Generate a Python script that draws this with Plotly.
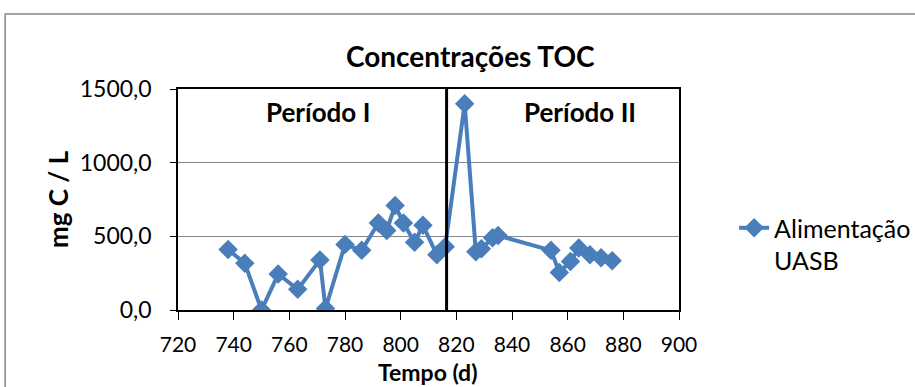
import plotly.graph_objects as go

# Data
tempo = [738, 744, 750, 756, 763, 771, 773, 780, 786, 792, 795, 798, 801, 805, 808,
         813, 816, 823, 827, 829, 833, 835, 854, 857, 861, 864, 868, 872, 876]
toc = [410, 317, 0, 244, 140, 340, 10, 445, 405, 590, 540, 710, 590, 460, 575,
       375, 430, 1400, 395, 415, 490, 505, 405, 255, 330, 420, 375, 355, 335]
series_name = "Alimentação<br>UASB"
period_boundary = 816.5
period_labels = ["Período I", "Período II"]
period_label_x = [0.279, 0.802]

font_family = "Lato, 'Open Sans', sans-serif"
blue = "#4a7ebb"

fig = go.Figure()
fig.add_trace(go.Scatter(
    x=tempo, y=toc, mode="lines+markers", name=series_name,
    line=dict(color=blue, width=4),
    marker=dict(symbol="diamond", size=15, color=blue),
))

fig.add_shape(type="line", xref="x", yref="y", x0=period_boundary, x1=period_boundary,
              y0=0, y1=1500, line=dict(color="black", width=3))

# outer chart border
fig.add_shape(type="rect", xref="paper", yref="paper", x0=-0.345, x1=2.0, y0=-1.0, y1=1.339,
              line=dict(color="#868686", width=1.5), layer="below")

for lbl, px in zip(period_labels, period_label_x):
    fig.add_annotation(text="<b>%s</b>" % lbl, xref="paper", yref="paper", x=px, y=0.896,
                       xanchor="center", yanchor="middle",
                       showarrow=False, font=dict(size=26, color="black", family=font_family))

# axis titles
fig.add_annotation(text="<b>Tempo (d)</b>", xref="paper", yref="paper", x=0.499, y=-0.28,
                   xanchor="center", yanchor="middle", showarrow=False, borderpad=0,
                   font=dict(size=23, color="black"))
fig.add_annotation(text="<b>mg C / L</b>", xref="paper", yref="paper", x=-0.2395, y=0.502,
                   xanchor="center", yanchor="middle", textangle=-90, showarrow=False,
                   font=dict(size=26, color="black"))

fig.update_layout(
    width=915, height=387,
    margin=dict(l=178, r=236, t=89, b=77, autoexpand=False),
    paper_bgcolor="white", plot_bgcolor="white",
    separators=",.",
    title=dict(text="<b>Concentrações TOC</b>", x=0.514, xanchor="center", y=0.852, yanchor="middle",
               font=dict(size=28, color="black", family=font_family)),
    font=dict(family=font_family, color="black", size=16),
    showlegend=True,
    legend=dict(x=1.11, y=0.475, xanchor="left", yanchor="top", valign="top",
                font=dict(size=25), bgcolor="rgba(0,0,0,0)"),
)
fig.update_xaxes(range=[720, 900], dtick=20, tick0=720, showgrid=False,
                 showline=True, linecolor="black", linewidth=1.5, mirror=True,
                 ticks="outside", ticklen=8, tickcolor="black",
                 tickfont=dict(size=21), ticklabelstandoff=7,
                 zeroline=False)
fig.update_yaxes(range=[0, 1500], dtick=500, tickformat=".1f", showgrid=True,
                 gridcolor="#868686", gridwidth=1,
                 showline=True, linecolor="black", linewidth=1.5, mirror=True,
                 ticks="outside", ticklen=6, tickcolor="black",
                 tickfont=dict(size=23), ticklabelstandoff=14,
                 zeroline=False)

fig.write_html("out.html")
